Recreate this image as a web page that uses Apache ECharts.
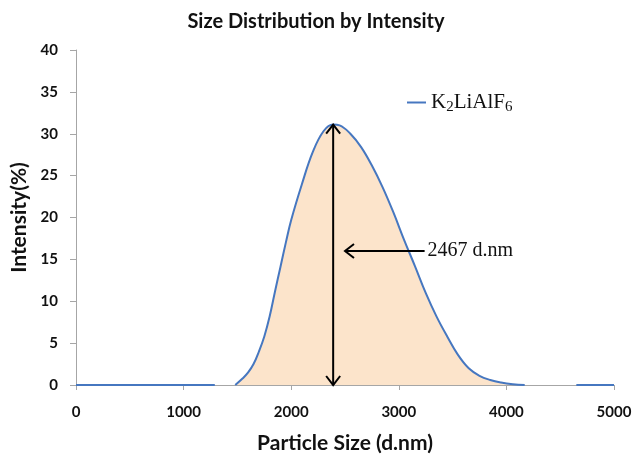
<!DOCTYPE html>
<html>
<head>
<meta charset="utf-8">
<script src="https://cdn.jsdelivr.net/npm/echarts@6/dist/echarts.min.js"></script>
<style>
  html, body { margin: 0; padding: 0; background: #fff; }
  #chart { width: 632px; height: 456px; }
</style>
</head>
<body>
<div id="chart"></div>
<script>
// Flat baseline before the peak (d.nm, %)
const baseLeftSize = [0, 1290];
const baseLeftIntensity = [0, 0];

// Main intensity peak
const peakSize = [1480, 1550, 1600, 1650, 1700, 1750, 1800, 1850, 1900, 1950, 2000,
                  2100, 2200, 2300, 2390, 2450, 2550, 2650, 2750, 2850, 2950, 3050,
                  3150, 3250, 3350, 3450, 3550, 3650, 3750, 3850, 3950, 4060, 4170];
const peakIntensity = [0, 0.8, 1.5, 2.5, 4.0, 5.8, 8.2, 11.2, 14.1, 17.0, 19.7,
                       24.0, 27.8, 30.3, 31.1, 31.0, 30.0, 28.4, 26.2, 23.6, 20.6, 17.3,
                       14.2, 11.0, 8.2, 5.8, 3.6, 2.0, 1.1, 0.6, 0.3, 0.1, 0];

// Flat baseline after the peak
const baseRightSize = [4650, 5000];
const baseRightIntensity = [0, 0];

// Axis ticks
const xTicks = [0, 1000, 2000, 3000, 4000, 5000];
const yTicks = [0, 5, 10, 15, 20, 25, 30, 35, 40];

// Annotation: peak marker and its label
const markerSize = 2390;
const markerTop = 31.1;
const labelArrowY = 16;
const labelArrowFrom = 3240;
const labelArrowTo = 2500;
const labelText = '2467 d.nm';

const zip = (xs, ys) => xs.map((x, i) => [x, ys[i]]);

const lineColor = '#4677C0';
const fillColor = '#FCE4CB';
const sansBold = 'Lato, "Open Sans", sans-serif';
const serif = '"Liberation Serif", "Times New Roman", serif';

const chart = echarts.init(document.getElementById('chart'), null, { renderer: 'canvas' });

function chevron(tip, dir) {
  // open V-shaped arrow head; dir is the unit direction the arrow points to
  const len = 9, half = 7;
  const bx = tip[0] - dir[0] * len, by = tip[1] - dir[1] * len;
  const nx = -dir[1], ny = dir[0];
  return {
    type: 'polyline',
    shape: { points: [[bx + nx * half, by + ny * half], tip, [bx - nx * half, by - ny * half]] },
    style: { stroke: '#000', lineWidth: 2, fill: null }
  };
}

const option = {
  animation: false,
  backgroundColor: '#fff',
  title: {
    text: 'Size Distribution by Intensity',
    left: 'center',
    top: 7,
    textStyle: { fontFamily: sansBold, fontWeight: 'bold', fontSize: 20, color: '#111' }
  },
  legend: {
    data: [{ name: 'K2LiAlF6' }],
    left: 402,
    top: 87,
    icon: 'rect',
    itemWidth: 19,
    itemHeight: 2,
    itemGap: 11,
    formatter: () => 'K{s|2}LiAlF{s|6}',
    textStyle: {
      fontFamily: serif,
      fontSize: 21,
      color: '#111',
      rich: {
        s: { fontFamily: serif, fontSize: 15, color: '#111', padding: [10, 0, 0, 0] }
      }
    }
  },
  grid: { left: 76, right: 18, top: 50, bottom: 71, containLabel: false, outerBoundsMode: 'none' },
  xAxis: {
    type: 'value',
    min: xTicks[0],
    max: xTicks[xTicks.length - 1],
    interval: xTicks[1] - xTicks[0],
    name: 'Particle Size (d.nm)',
    nameLocation: 'middle',
    nameGap: 48,
    nameTextStyle: { fontFamily: sansBold, fontWeight: 'bold', fontSize: 21, color: '#111' },
    axisLine: { show: true, lineStyle: { color: '#A6A6A6', width: 1 } },
    axisTick: { show: true, inside: false, length: 5, lineStyle: { color: '#A6A6A6' } },
    axisLabel: { margin: 20, fontFamily: sansBold, fontWeight: 'bold', fontSize: 15, color: '#111',
                 formatter: v => String(v) },
    splitLine: { show: false }
  },
  yAxis: {
    type: 'value',
    min: yTicks[0],
    max: yTicks[yTicks.length - 1],
    interval: yTicks[1] - yTicks[0],
    name: 'Intensity(%)',
    nameLocation: 'middle',
    nameGap: 45,
    nameTextStyle: { fontFamily: sansBold, fontWeight: 'bold', fontSize: 21, color: '#111' },
    axisLine: { show: true, lineStyle: { color: '#A6A6A6', width: 1 } },
    axisTick: { show: true, inside: false, length: 6, lineStyle: { color: '#A6A6A6' } },
    axisLabel: { margin: 18, fontFamily: sansBold, fontWeight: 'bold', fontSize: 15, color: '#111' },
    splitLine: { show: false }
  },
  series: [
    {
      name: 'K2LiAlF6',
      type: 'line',
      data: zip(peakSize, peakIntensity),
      smooth: 0.4,
      showSymbol: false,
      lineStyle: { color: lineColor, width: 2 },
      itemStyle: { color: lineColor },
      areaStyle: { color: fillColor, opacity: 1 },
      z: 2
    },
    {
      name: 'baseline',
      type: 'line',
      data: zip(baseLeftSize, baseLeftIntensity).concat([[1385, '-']], zip(baseRightSize, baseRightIntensity)),
      showSymbol: false,
      connectNulls: false,
      lineStyle: { color: lineColor, width: 2 },
      itemStyle: { color: lineColor },
      z: 3
    },
    {
      name: 'annotation',
      type: 'custom',
      data: [[markerSize, markerTop]],
      z: 10,
      renderItem: function (params, api) {
        const bottom = api.coord([markerSize, 0]);
        const top = api.coord([markerSize, markerTop]);
        const from = api.coord([labelArrowFrom, labelArrowY]);
        const to = api.coord([labelArrowTo, labelArrowY]);
        return {
          type: 'group',
          children: [
            { type: 'line', shape: { x1: bottom[0], y1: bottom[1], x2: top[0], y2: top[1] },
              style: { stroke: '#000', lineWidth: 2 } },
            chevron(top, [0, -1]),
            chevron(bottom, [0, 1]),
            { type: 'line', shape: { x1: from[0], y1: from[1], x2: to[0], y2: to[1] },
              style: { stroke: '#000', lineWidth: 2 } },
            chevron(to, [-1, 0]),
            { type: 'text', x: from[0] + 3, y: from[1],
              style: { text: labelText, fill: '#111', fontSize: 20, fontFamily: serif,
                       verticalAlign: 'middle', align: 'left' } }
          ]
        };
      }
    }
  ]
};

chart.setOption(option);
</script>
</body>
</html>
